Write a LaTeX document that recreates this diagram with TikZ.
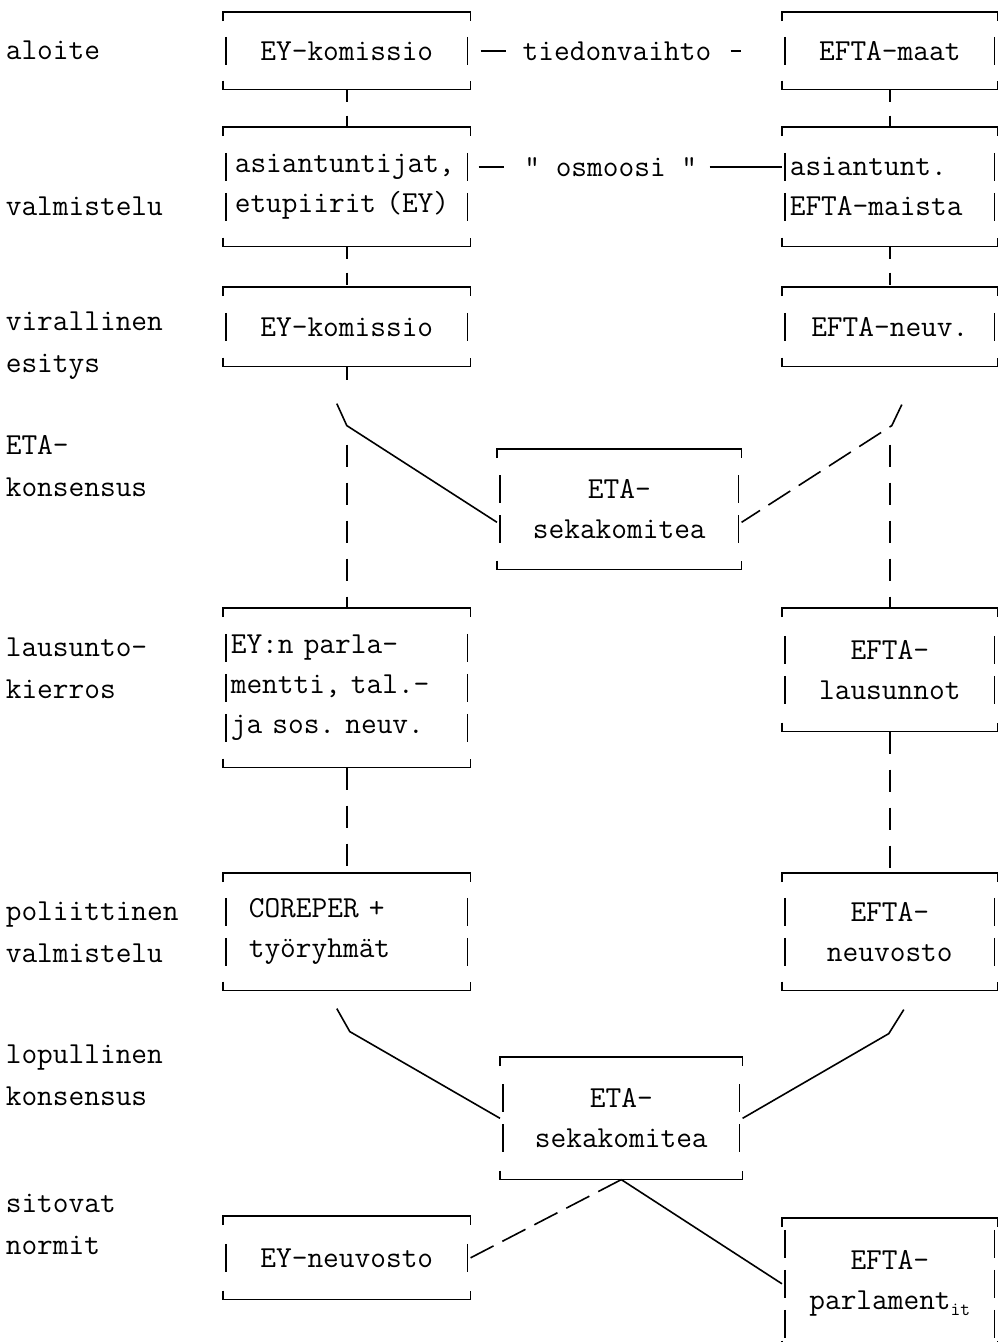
\documentclass[tikz,border=0pt]{standalone}
\usepackage{fontspec}
\usetikzlibrary{calc}
\newcommand{\typew}{\ttfamily\frenchspacing\fontsize{30.5}{40}\selectfont}
\newcommand{\labw}{\ttfamily\frenchspacing\fontsize{30.5}{42}\selectfont}

\tikzset{every picture/.style={line width=1.6pt}}
\tikzset{
  tb/.style={anchor=north west, inner sep=0pt, font=\typew, align=center},
  lab/.style={anchor=west, inner sep=0pt, font=\labw, align=left},
  brk/.style={dash pattern=on 12pt off 14pt},
  vdash/.style={dash pattern=on 22pt off 16pt},
  ddash/.style={dash pattern=on 26pt off 10pt},
}

% kehys: #1 solmu, #2 rivien lkm
\newcommand{\kehys}[2]{%
  \draw ($(#1.north west)+(0,9)$) -- (#1.north west) -- (#1.north east) -- ($(#1.north east)+(0,9)$);
  \draw ($(#1.south west)+(0,-9)$) -- (#1.south west) -- (#1.south east) -- ($(#1.south east)+(0,-9)$);
  \foreach \i in {1,...,#2}{
    \draw ($(#1.west)+(3,{(\i-(#2+1)/2)*40-14})$) -- ++(0,28);
    \draw ($(#1.east)+(-3,{(\i-(#2+1)/2)*40-14})$) -- ++(0,28);
  }}

\begin{document}
\begin{tikzpicture}[x=1pt,y=1pt,yscale=-1]
\useasboundingbox (0,0) rectangle (1000,1342);

% vaiheet
\node[lab] (l1) at (5,50) {aloite};
\node[lab] (l2) at (5,206) {valmistelu};
\node[lab] (l3) at (5,346) {virallinen\\esitys};
\node[lab] (l4) at (5,466) {ETA-\\konsensus};
\node[lab] (l5) at (5,668) {lausunto-\\kierros};
\node[lab] (l6) at (5,932) {poliittinen\\valmistelu};
\node[lab] (l7) at (5,1075) {lopullinen\\konsensus};
\node[lab] (l8) at (5,1224) {sitovat\\normit};

% EY
\node[tb, minimum width=246, minimum height=76] (ek1) at (223,12) {EY-komissio};
\node[tb, minimum width=246, minimum height=118, text width=224, align=left] (as1) at (223,127) {asiantuntijat,\\etupiirit (EY)};
\node[tb, minimum width=246, minimum height=78] (ek3) at (223,287) {EY-komissio};
\node[tb, minimum width=246, minimum height=158, text width=232, align=left] (ep4) at (223,608) {EY:n parla-\\mentti, tal.-\\ja sos. neuv.};
\node[tb, minimum width=246, minimum height=116, text width=196, align=left] (cor) at (223,873) {COREPER +\\työryhmät};
\node[tb, minimum width=246, minimum height=82] (eyn) at (223,1216) {EY-neuvosto};

% EFTA
\node[tb, minimum width=214, minimum height=76] (efm) at (782,12) {EFTA-maat};
\node[tb, minimum width=214, minimum height=118, text width=200, align=left] (asr) at (782,127) {asiantunt.\\EFTA-maista};
\node[tb, minimum width=214, minimum height=78] (efn) at (782,287) {EFTA-neuv.};
\node[tb, minimum width=214, minimum height=122] (el4) at (782,608) {EFTA-\\lausunnot};
\node[tb, minimum width=214, minimum height=116] (efn5) at (782,873) {EFTA-\\neuvosto};
\node[tb, minimum width=214, minimum height=130] (ep) at (782,1218) {EFTA-\\parlament{\fontsize{19}{19}\selectfont\raisebox{-6pt}{it}}};

% ETA
\node[tb, minimum width=243, minimum height=119] (eta1) at (497,449) {ETA-\\sekakomitea};
\node[tb, minimum width=241, minimum height=121] (eta2) at (500,1057) {ETA-\\sekakomitea};

\kehys{ek1}{1}
\kehys{as1}{2}
\kehys{ek3}{1}
\kehys{ep4}{3}
\kehys{cor}{2}
\kehys{eyn}{1}
\kehys{efm}{1}
\kehys{asr}{2}
\kehys{efn}{1}
\kehys{el4}{2}
\kehys{efn5}{2}
\kehys{ep}{3}
\kehys{eta1}{2}
\kehys{eta2}{2}

% vaakayhteydet
\draw[dash pattern=on 25pt off 225pt on 10pt off 100pt, dash phase=350pt] (ek1.east) -- (efm.west)
  node[pos=0.47, font=\typew, inner sep=0pt] (tv) {tiedonvaihto};
\draw[dash pattern=on 25pt off 206pt on 74pt off 100pt, dash phase=397pt] ($(as1.east)+(0,-20)$) -- ($(asr.west)+(0,-20)$)
  node[pos=0.45, font=\typew, inner sep=0pt] (os) {" osmoosi "};

% pystyyhteydet
\draw[brk] (ek1.south) -- (as1.north);
\draw[brk] (efm.south) -- (asr.north);
\draw[brk] (as1.south) -- (ek3.north);
\draw[brk] (asr.south) -- (efn.north);

\draw (ek3.south) -- ++(0,13);
\coordinate (v1) at ($(ek3.south)+(0,78)$);
\coordinate (v2) at ($(efn.south)+(0,78)$);
\draw[vdash] (v1) -- (ep4.north);
\draw[vdash] (v2) -- (el4.north);
\draw ($(ek3.south)+(-10,37)$) -- ++(10,22) -- ($(eta1.west)+(0,13)$);
\draw[ddash] ($(efn.south)+(12,38)$) -- ++(-10,21) -- ($(eta1.east)+(0,13)$);

\draw[vdash] (ep4.south) -- (cor.north);
\draw[vdash] (el4.south) -- (efn5.north);

% lopullinen konsensus
\draw ($(cor.south)+(-10,18)$) -- ++(13,23) -- (eta2.west);
\draw ($(efn5.south)+(14,19)$) -- ++(-15,24) -- (eta2.east);
\draw[ddash] (eta2.south) -- (eyn.east);
\draw (eta2.south) -- (ep.west);

\end{tikzpicture}
\end{document}
